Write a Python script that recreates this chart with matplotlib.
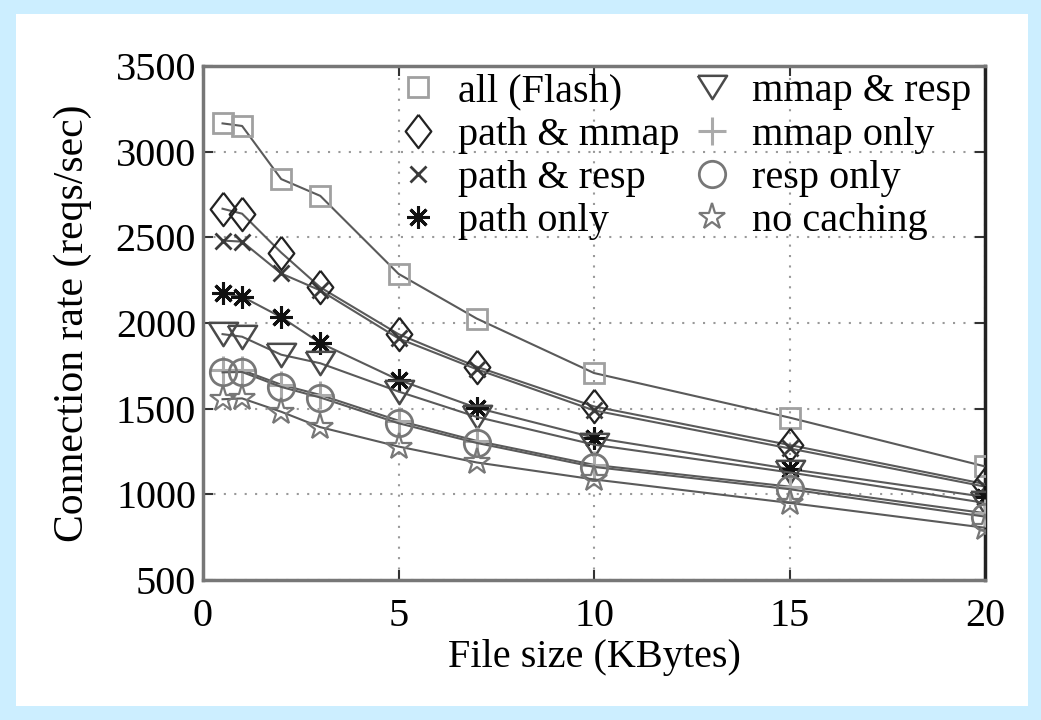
import matplotlib
matplotlib.use("Agg")
import matplotlib.pyplot as plt
from matplotlib.lines import Line2D
from matplotlib.patches import Rectangle

plt.rcParams['font.family'] = ['Liberation Serif', 'DejaVu Serif']

# ---------------- data ----------------
file_size = [0.5, 1, 2, 3, 5, 7, 10, 15, 20]

series_names = ["all (Flash)", "path & mmap", "path & resp", "path only",
                "mmap & resp", "mmap only", "resp only", "no caching"]

all_flash   = [3165, 3150, 2840, 2742, 2287, 2026, 1708, 1448, 1163]
path_mmap   = [2667, 2638, 2411, 2208, 1935, 1745, 1513, 1288, 1060]
path_resp   = [2481, 2475, 2289, 2190, 1910, 1730, 1490, 1268, 1045]
path_only   = [2173, 2154, 2034, 1883, 1668, 1505, 1331, 1148, 985]
mmap_resp   = [1935, 1920, 1815, 1765, 1600, 1452, 1290, 1128, 950]
mmap_only   = [1725, 1725, 1640, 1580, 1430, 1312, 1172, 1045, 890]
resp_only   = [1712, 1714, 1627, 1565, 1415, 1300, 1160, 1030, 870]
no_caching  = [1555, 1560, 1482, 1392, 1279, 1186, 1087, 950, 805]

series_values = [all_flash, path_mmap, path_resp, path_only,
                 mmap_resp, mmap_only, resp_only, no_caching]

x_ticks = [0, 5, 10, 15, 20]
y_ticks = [500, 1000, 1500, 2000, 2500, 3000, 3500]

# ---------------- styles ----------------
tall_diamond = [(0, 1), (0.77, 0), (0, -1), (-0.77, 0), (0, 1)]
wide_tri = [(-1, 0.8), (1, 0.8), (0, -0.8), (-1, 0.8)]
styles = [
    dict(marker='s', mec='#a0a0a0', ms=15, mew=2.0),
    dict(marker=tall_diamond, mec='#222222', ms=24, mew=1.6),
    dict(marker='x', mec='#3a3a3a', ms=12, mew=2.0),
    dict(marker=(8, 2, 0), mec='#111111', ms=16, mew=2.2),
    dict(marker=wide_tri, mec='#4a4a4a', ms=21, mew=1.8),
    dict(marker='+', mec='#aaaaaa', ms=20, mew=2.2),
    dict(marker='o', mec='#777777', ms=19, mew=2.0),
    dict(marker='*', mec='#777777', ms=20, mew=1.6),
]
line_color = '#5a5a5a'

FS = 29

fig = plt.figure(figsize=(10.41, 7.2), dpi=100)
fig.patch.set_facecolor('#cceeff')
fig.patches.append(Rectangle((16 / 1041, 14 / 720), (1028 - 16) / 1041, (706 - 14) / 720,
                             transform=fig.transFigure, facecolor='white',
                             edgecolor='none', zorder=-10))

ax = fig.add_axes([203 / 1041, (720 - 580) / 720, (985 - 203) / 1041, (580 - 66) / 720])
ax.set_facecolor('white')

handles = []
for name, vals, st in zip(series_names, series_values, styles):
    ax.plot(file_size, vals, color=line_color, lw=1.5, marker=st['marker'],
            ms=st['ms'], mew=st['mew'], mec=st['mec'], mfc='none', zorder=3)
    handles.append(Line2D([], [], linestyle='none', marker=st['marker'],
                          ms=st['ms'], mew=st['mew'], mec=st['mec'], mfc='none'))

ax.set_xlim(0, 20)
ax.set_ylim(500, 3500)
ax.set_xticks(x_ticks)
ax.set_yticks(y_ticks)
ax.set_xticklabels([str(t) for t in x_ticks])
ax.set_yticklabels([str(t) for t in y_ticks])

ax.grid(True, color='#999999', linestyle=(0, (1, 4)), lw=1.5)
ax.set_axisbelow(True)

ax.tick_params(direction='in', length=7, width=1.5, colors='#333333',
               labelsize=FS, labelcolor='black', top=True, right=True)
ax.tick_params(axis='x', pad=13)
ax.tick_params(axis='y', pad=5)

for side in ['left', 'bottom', 'top']:
    ax.spines[side].set_color('#777777')
    ax.spines[side].set_linewidth(2.5)
ax.spines['right'].set_color('#222222')
ax.spines['right'].set_linewidth(2.5)

ax.set_xlabel('File size (KBytes)', fontsize=29)
ax.set_ylabel('Connection rate (reqs/sec)', fontsize=30)
ax.xaxis.set_label_coords(0.5, -0.115)
ax.yaxis.set_label_coords(-0.142, 0.5)

leg = ax.legend(handles, series_names, ncol=2, frameon=False, fontsize=FS,
                loc='upper left', bbox_to_anchor=(0.249, 0.986),
                handlelength=1.0, handletextpad=0.5, columnspacing=0.3,
                labelspacing=0.15, borderaxespad=0.0, borderpad=0.0,
                numpoints=1)

fig.savefig('out.png', dpi=100, facecolor=fig.get_facecolor())
